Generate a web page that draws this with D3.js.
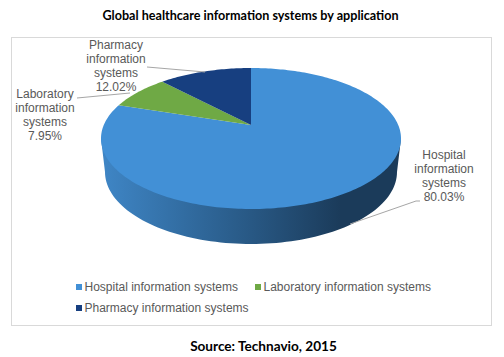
<!DOCTYPE html>
<html>
<head>
<meta charset="utf-8">
<script src="https://cdnjs.cloudflare.com/ajax/libs/d3/7.8.5/d3.min.js"></script>
<style>
    html, body { margin: 0; padding: 0; background: #fff; }
    svg { display: block; }
    .heading { font-family: Lato, sans-serif; font-weight: 700; fill: #000; text-anchor: middle; }
    .label, .legend-text { font-family: "Liberation Sans", Arial, sans-serif; font-size: 12px; fill: #595959; }
    .label { text-anchor: middle; }
    .leader { fill: none; stroke: #a6a6a6; stroke-width: 1; }
</style>
</head>
<body>
<div id="chart"></div>
<script>
// Chart data
const categories = ["Hospital information systems", "Laboratory information systems", "Pharmacy information systems"];
const shares = [80.03, 7.95, 12.02];
const colors = ["#4290d6", "#6fa945", "#173f80"];

const chartSettings = {
    width: 504,
    height: 357,
    centerX: 251,
    centerY: 138.5,
    radiusX: 150,
    radiusY: 70.5,
    baseCenterY: 172,
    baseRadiusX: 146,
    baseRadiusY: 72,
    tilt: 0.19, // pushes the apex back, so the far slices look smaller
};

const svg = d3.select("#chart").append("svg")
    .attr("width", chartSettings.width)
    .attr("height", chartSettings.height);

// Frame
svg.append("rect")
    .attr("x", 11.5).attr("y", 37.5)
    .attr("width", 480).attr("height", 288)
    .attr("fill", "#fff").attr("stroke", "#d9d9d9");

svg.append("text").attr("class", "heading")
    .attr("x", 250.5).attr("y", 20).attr("font-size", 12.6)
    .text("Global healthcare information systems by application");
svg.append("text").attr("class", "heading")
    .attr("x", 263.5).attr("y", 351).attr("font-size", 13.6)
    .text("Source: Technavio, 2015");

// Perspective view of a pie angle on the ellipse
const project = (angle, r = 1) => {
    const { centerX, centerY, radiusX, radiusY, tilt } = chartSettings;
    const x = Math.sin(angle) * r;
    const y = Math.cos(angle) * r;
    const w = 1 + tilt * y;
    return [
        centerX + radiusX * x * Math.sqrt(1 - tilt * tilt) / w,
        centerY - radiusY * (y + tilt) / w,
    ];
};

const pie = d3.pie().sort(null)
    .startAngle(0).endAngle(2 * Math.PI)
    .value((d) => d);
const slices = pie(shares);
const line = d3.line();

// Side wall
const { centerX, centerY, radiusX, baseCenterY, baseRadiusX, baseRadiusY } = chartSettings;
const wallGradient = svg.append("defs").append("linearGradient")
    .attr("id", "wall")
    .attr("gradientUnits", "userSpaceOnUse")
    .attr("x1", centerX - radiusX)
    .attr("x2", centerX + radiusX)
    .attr("y1", 0).attr("y2", 0);
[[0, "#3f86c6"], [0.25, "#336fa5"], [0.5, "#285884"], [0.8, "#1b3b5a"], [1, "#1b3b5a"]]
    .forEach(([offset, color]) => {
        wallGradient.append("stop").attr("offset", offset).attr("stop-color", color);
    });

const basePoints = d3.range(0, 181, 2).map((deg) => {
    const t = deg * Math.PI / 180;
    return [centerX + baseRadiusX * Math.cos(t), baseCenterY + baseRadiusY * Math.sin(t)];
});
svg.append("path")
    .attr("d", line([[centerX + radiusX, centerY], ...basePoints, [centerX - radiusX, centerY]]) + "Z")
    .attr("fill", "url(#wall)");

// Top face
svg.append("g").selectAll("path")
    .data(slices)
    .join("path")
    .attr("fill", (d, i) => colors[i])
    .attr("d", (d) => {
        const steps = Math.ceil((d.endAngle - d.startAngle) / 0.02);
        const edge = d3.range(steps + 1).map((i) => project(d.startAngle + (d.endAngle - d.startAngle) * i / steps));
        return line([project(0, 0), ...edge]) + "Z";
    });

// Data labels with leader lines
const labelLines = [
    ["Hospital", "information", "systems", `${shares[0].toFixed(2)}%`],
    ["Laboratory", "information", "systems", `${shares[1].toFixed(2)}%`],
    ["Pharmacy", "information", "systems", `${shares[2].toFixed(2)}%`],
];
const labelAnchors = [[444, 159], [45, 98], [116, 49]];
const leaders = [
    [[420, 201], [416, 201], [350, 224]],
    [[77, 98], [130, 93]],
    [[147, 67], [205, 72]],
];

svg.append("g").selectAll("path")
    .data(leaders)
    .join("path")
    .attr("class", "leader")
    .attr("d", (d) => line(d));

svg.append("g").selectAll("text")
    .data(labelLines)
    .join("text")
    .attr("class", "label")
    .attr("transform", (d, i) => `translate(${labelAnchors[i][0]},${labelAnchors[i][1]})`)
    .selectAll("tspan")
    .data((d) => d)
    .join("tspan")
    .attr("x", 0)
    .attr("y", (d, i) => i * 14)
    .text((d) => d);

// Legend
const legendAnchors = [[76, 287], [255, 287], [76, 308]];
const legend = svg.append("g").selectAll("g")
    .data(categories)
    .join("g")
    .attr("transform", (d, i) => `translate(${legendAnchors[i][0]},${legendAnchors[i][1]})`);
legend.append("rect")
    .attr("y", -3).attr("width", 6).attr("height", 6)
    .attr("fill", (d, i) => colors[i]);
legend.append("text")
    .attr("class", "legend-text")
    .attr("x", 8.5).attr("y", 4)
    .text((d) => d);
</script>
</body>
</html>
